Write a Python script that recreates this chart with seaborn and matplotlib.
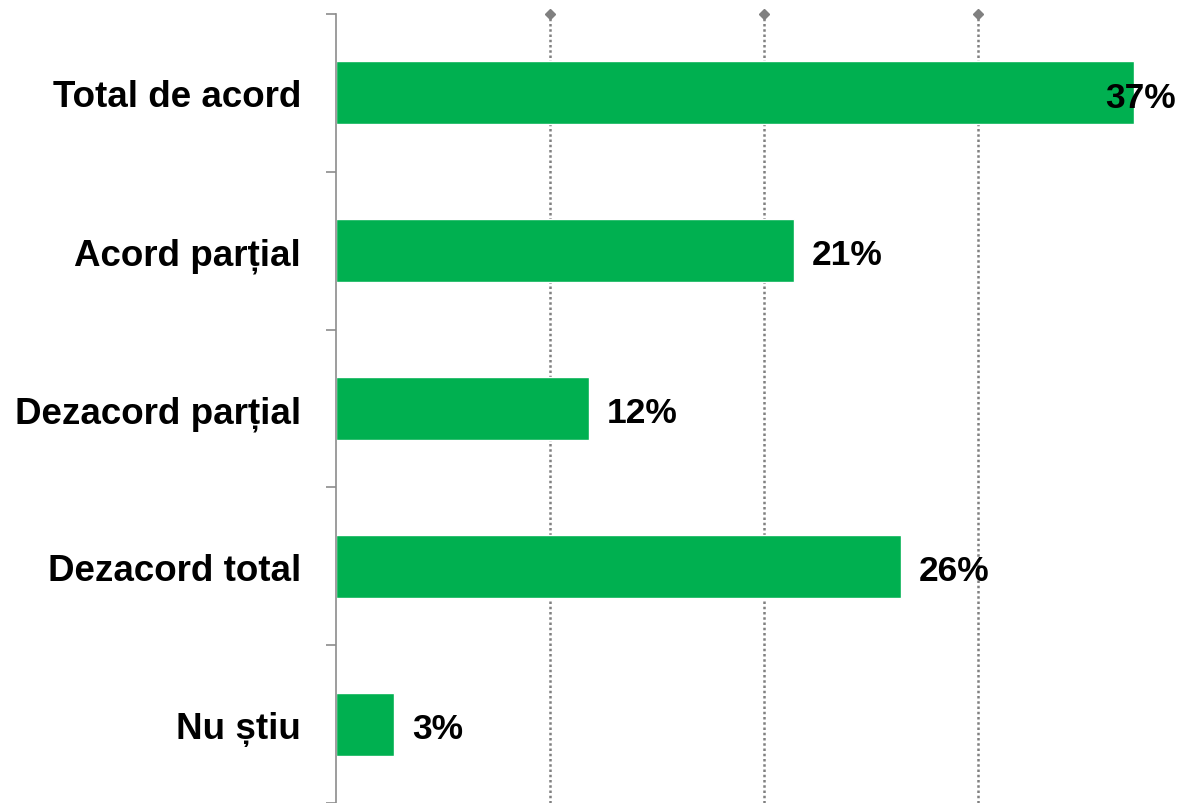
import matplotlib
matplotlib.use("Agg")
import matplotlib.pyplot as plt
import seaborn as sns
import pandas as pd

# -----------------------------------------------------------------------------
# Data (share of answers, %)
# -----------------------------------------------------------------------------
categories = ["Total de acord", "Acord parțial", "Dezacord parțial", "Dezacord total", "Nu știu"]
values = [37.3, 21.4, 11.8, 26.4, 2.7]
value_labels = ["37%", "21%", "12%", "26%", "3%"]
grid_ticks = [10, 20, 30]

BAR_COLOR = "#00B050"
AXIS_GREY = "#8c8c8c"
GRID_GREY = "#808080"

sns.set_style("white")
plt.rcParams["font.family"] = ["Liberation Sans", "DejaVu Sans"]

df = pd.DataFrame({"category": categories, "value": values})

fig = plt.figure(figsize=(11.78, 8.04), dpi=100)
# axes spills slightly past the right edge, like the cropped original
ax = fig.add_axes([0.2852, 0.0, 0.7267, 0.9813])

sns.barplot(data=df, x="value", y="category", orient="h", color=BAR_COLOR,
            width=0.4, saturation=1, ax=ax, zorder=2)

ax.set_xlim(0, 40)
ax.set_ylim(len(categories) - 0.5, -0.5)

# dotted vertical gridlines with a diamond cap at the top
for t in grid_ticks:
    ax.axvline(t, color=GRID_GREY, lw=1.8, ls=(0, (1, 1.1)), zorder=1)
ax.plot(grid_ticks, [-0.5] * len(grid_ticks), "D", ms=5.5, color=GRID_GREY,
        clip_on=False, zorder=3)

# spines / ticks
for side in ["top", "right", "bottom"]:
    ax.spines[side].set_visible(False)
ax.spines["left"].set_color(AXIS_GREY)
ax.spines["left"].set_linewidth(1.2)
ax.set_xticks([])
ax.set_yticks([i - 0.5 for i in range(len(categories) + 1)], minor=True)
ax.tick_params(axis="y", which="minor", length=7.5, width=1.2, color=AXIS_GREY, left=True)
ax.tick_params(axis="y", which="major", length=0, pad=25, labelsize=26.5,
               labelcolor="black")
for lbl in ax.get_yticklabels():
    lbl.set_fontweight("bold")
ax.set_xlabel("")
ax.set_ylabel("")

# value labels right of each bar (pulled back inside when it would run off the chart)
for i, (v, txt) in enumerate(zip(values, value_labels)):
    dx = -21 if v > 35 else 13
    ax.annotate(txt, xy=(v, i), xytext=(dx, -3), textcoords="offset points",
                ha="left", va="center", fontsize=25.5, fontweight="bold",
                color="black", zorder=4, annotation_clip=False)

fig.savefig("out.png", dpi=100)
